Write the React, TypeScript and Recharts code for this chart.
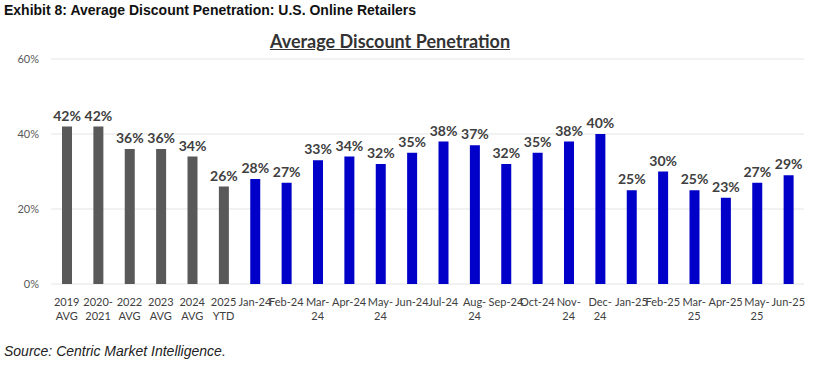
import { BarChart, Bar, XAxis, YAxis, CartesianGrid, Cell, LabelList } from "recharts";

const categories = [
  "2019\nAVG", "2020-\n2021", "2022\nAVG", "2023\nAVG", "2024\nAVG", "2025\nYTD",
  "Jan-24", "Feb-24", "Mar-\n24", "Apr-24", "May-\n24", "Jun-24", "Jul-24", "Aug-\n24",
  "Sep-24", "Oct-24", "Nov-\n24", "Dec-\n24", "Jan-25", "Feb-25", "Mar-\n25", "Apr-25", "May-\n25", "Jun-25",
];
const penetration = [42, 42, 36, 36, 34, 26, 28, 27, 33, 34, 32, 35, 38, 37, 32, 35, 38, 40, 25, 30, 25, 23, 27, 29];
const yTicks = [0, 20, 40, 60];

const GREY = "#595959";
const BLUE = "#0000c8";
const FONT = "Lato, 'Open Sans', sans-serif";

const data = categories.map((name, i) => ({
  name,
  value: penetration[i],
  kind: name.includes("AVG") || name.includes("YTD") || name.includes("2021") ? "avg" : "month",
}));

const XTick = ({ x, y, payload }: any) => {
  const lines = String(payload.value).split("\n");
  return (
    <text x={x} y={y} textAnchor="middle" fill="#404040" fontSize={11} fontFamily={FONT}>
      {lines.map((l, i) => (
        <tspan key={i} x={x} dy={i === 0 ? 14 : 14}>{l}</tspan>
      ))}
    </text>
  );
};

const ValueLabel = ({ x, y, width, value }: any) => (
  <text x={x + width / 2} y={y - 6} textAnchor="middle" fill="#404040" fontSize={14} fontWeight={700} fontFamily={FONT}>
    {`${value}%`}
  </text>
);

export default function App() {
  return (
    <div style={{ position: "absolute", left: 0, top: 0, width: 820, height: 365, background: "#fff", overflow: "hidden" }}>
      <div style={{ position: "absolute", left: 4, top: 2, fontFamily: "'Liberation Sans', Arial, sans-serif", fontWeight: 700, fontSize: 14, color: "#111" }}>
        Exhibit 8: Average Discount Penetration: U.S. Online Retailers
      </div>
      <div style={{ position: "absolute", left: 0, width: 780, top: 30, textAlign: "center", fontFamily: FONT, fontWeight: 700, fontSize: 18, color: "#333", textDecoration: "underline" }}>
        Average Discount Penetration
      </div>
      <BarChart width={820} height={365} data={data} margin={{ top: 59, right: 16, left: 0, bottom: 31 }}>
        <CartesianGrid vertical={false} stroke="#e4e4e4" />
        <XAxis dataKey="name" interval={0} height={50} axisLine={false} tickLine={false} tick={<XTick />} />
        <YAxis
          width={51}
          domain={[0, 60]}
          ticks={yTicks}
          axisLine={false}
          tickLine={false}
          tickFormatter={(v: number) => `${v}%`}
          tick={{ fill: GREY, fontSize: 11, fontFamily: FONT }}
          tickMargin={6}
        />
        <Bar dataKey="value" barSize={10} isAnimationActive={false}>
          {data.map((d, i) => (
            <Cell key={i} fill={d.kind === "avg" ? GREY : BLUE} />
          ))}
          <LabelList dataKey="value" content={<ValueLabel />} />
        </Bar>
      </BarChart>
      <div style={{ position: "absolute", left: 4, top: 343, fontFamily: "'Liberation Sans', Arial, sans-serif", fontStyle: "italic", fontSize: 14, color: "#222" }}>
        Source: Centric Market Intelligence.
      </div>
    </div>
  );
}
